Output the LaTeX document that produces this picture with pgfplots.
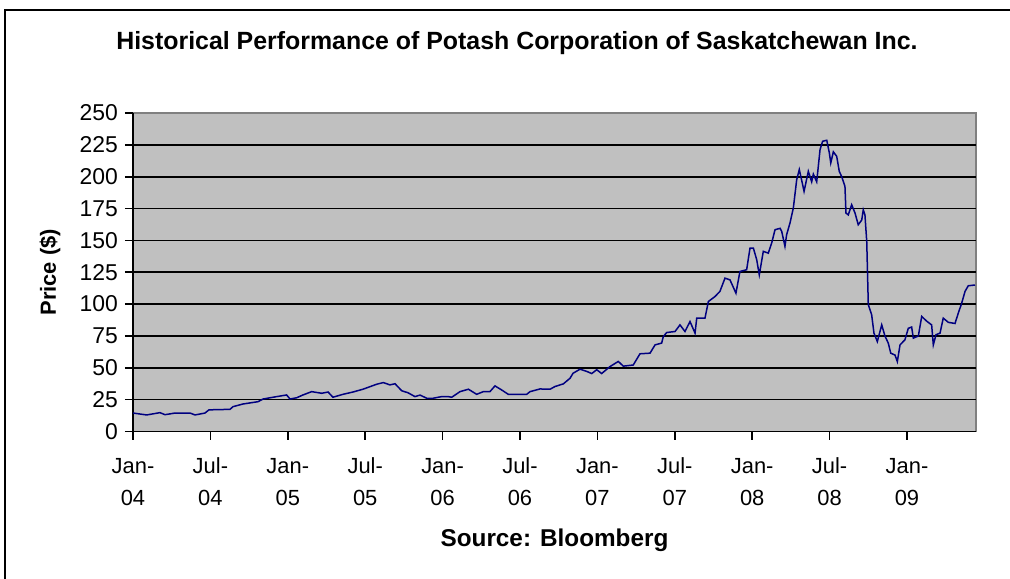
\documentclass[border=0pt]{standalone}
\usepackage{fontspec}
\setmainfont{Liberation Sans}
\usepackage{pgfplots}
\pgfplotsset{compat=1.18}
\definecolor{plotgray}{RGB}{192,192,192}
\definecolor{navyline}{RGB}{0,0,128}

\begin{document}
\begin{tikzpicture}[x=1bp,y=1bp]
\begin{axis}[
  at={(0,0)}, anchor=south west,
  scale only axis, width=421.5bp, height=159.25bp,
  xmin=0, xmax=65.35, ymin=0, ymax=250,
  axis background/.style={fill=plotgray, draw=gray, line width=0.6bp},
  axis lines=left,
  axis line style={-, black, line width=0.9bp},
  tick align=outside,
  major tick length=4bp,
  tick style={black, line width=0.8bp},
  xtick={0,6,...,60},
  xticklabels={{\strut Jan-\\04},{\strut Jul-\\04},{\strut Jan-\\05},{\strut Jul-\\05},{\strut Jan-\\06},{\strut Jul-\\06},{\strut Jan-\\07},{\strut Jul-\\07},{\strut Jan-\\08},{\strut Jul-\\08},{\strut Jan-\\09}},
  xticklabel style={align=center, yshift=-2.3bp, font=\fontsize{11}{16}\selectfont},
  ytick={0,25,...,225},
  extra y ticks={250},
  extra tick style={grid=none},
  yticklabel style={font=\fontsize{11.5}{12}\selectfont},
  ymajorgrids,
  grid style={black, line width=0.8bp},
  /pgf/number format/assume math mode=true,
  title={Historical Performance of Potash Corporation of Saskatchewan Inc.},
  title style={at={(0.4555,1.182)}, anchor=center, font=\bfseries\fontsize{12.5}{14}\selectfont},
  xlabel={Source: Bloomberg},
  xlabel style={at={(0.5,-0.341)}, anchor=center, font=\bfseries\fontsize{12.2}{14}\selectfont},
  ylabel={Price (\$)},
  ylabel style={at={(-0.0985,0.5)}, anchor=center, font=\bfseries\fontsize{11}{13}\selectfont},
]
\addplot[navyline, line width=0.75bp] coordinates {
(0,14.5) (1.06,13.0) (2.09,14.8) (2.48,13.2) (3.26,14.5) (4.42,14.5) (4.81,13.0)
(5.58,14.5) (5.89,17.0) (7.52,17.4) (7.75,19.5) (8.53,21.6) (9.30,22.8) (9.69,23.4)
(10.08,25.5) (11.14,27.4) (11.91,28.7) (12.17,25.5) (12.69,26.5) (13.18,28.7)
(13.85,31.3) (14.63,30.0) (15.12,31.0) (15.50,26.9) (16.28,29.2) (17.05,31.0)
(17.83,33.2) (18.89,37.1) (19.40,38.4) (19.92,36.6) (20.31,37.5) (20.83,32.0)
(21.32,30.4) (21.86,27.4) (22.25,28.6) (22.77,26.1) (23.26,26.1) (23.93,27.4)
(24.42,27.4) (24.71,26.9) (25.35,31.3) (26.00,33.2) (26.64,29.2) (27.16,31.3)
(27.67,31.3) (28.06,35.8) (28.58,32.6) (29.09,29.2) (30.52,29.2) (30.78,31.3)
(31.55,33.4) (32.33,33.2) (32.71,35.3) (33.36,37.4) (33.88,41.8) (34.11,45.7)
(34.65,48.9) (35.17,47.2) (35.56,45.5) (35.95,48.5) (36.33,45.5) (36.98,51.0)
(37.62,55.0) (38.01,51.3) (38.78,52.2) (39.30,61.0) (40.08,61.5) (40.47,68.0)
(40.98,69.4) (41.11,74.5) (41.37,77.7) (42.02,78.5) (42.40,83.7) (42.79,78.5)
(43.18,86.3) (43.57,77.2) (43.70,89.0) (44.34,89.0) (44.60,102.0) (45.12,106.0)
(45.50,110.0) (45.89,120.4) (46.28,119.0) (46.74,108.6) (47.05,125.6) (47.57,127.0)
(47.83,144.0) (48.09,144.0) (48.35,134.8) (48.55,123.0) (48.86,141.4) (49.25,140.0)
(49.51,148.0) (49.77,158.4) (50.16,159.5) (50.29,157.0) (50.54,145.3) (50.67,154.5)
(50.93,163.7) (51.19,175.5) (51.45,197.7) (51.65,205.6) (51.84,197.0) (52.02,188.5)
(52.35,204.2) (52.61,196.0) (52.74,202.0) (53.00,196.0) (53.26,221.3) (53.46,227.8)
(53.78,228.6) (53.98,218.7) (54.09,210.8) (54.29,219.5) (54.55,216.0) (54.75,204.2)
(54.94,200.0) (55.19,192.5) (55.27,171.5) (55.45,170.0) (55.71,178.0) (55.97,171.5)
(56.22,162.3) (56.49,166.0) (56.61,174.0) (56.74,170.0) (56.88,149.0) (57.00,99.5)
(57.26,91.6) (57.44,77.2) (57.70,70.6) (58.04,83.7) (58.29,75.0) (58.55,69.3)
(58.74,61.5) (59.07,60.0) (59.25,54.9) (59.46,68.0) (59.84,72.0) (60.10,81.0)
(60.36,82.0) (60.49,73.3) (60.88,75.0) (61.14,90.3) (61.53,86.6) (61.91,83.7)
(62.04,68.0) (62.25,76.0) (62.56,77.2) (62.81,89.0) (63.20,85.7) (63.72,84.8)
(63.98,93.0) (64.24,100.8) (64.50,110.0) (64.75,114.4) (65.27,115.0)
};
\end{axis}
\draw[black, line width=0.8bp] (-64,-80) -- (-64,210.75) -- (445,210.75);
\pgfresetboundingbox
\path[use as bounding box] (-66.5,-73.25) rectangle (438.5,215.75);
\end{tikzpicture}
\end{document}
